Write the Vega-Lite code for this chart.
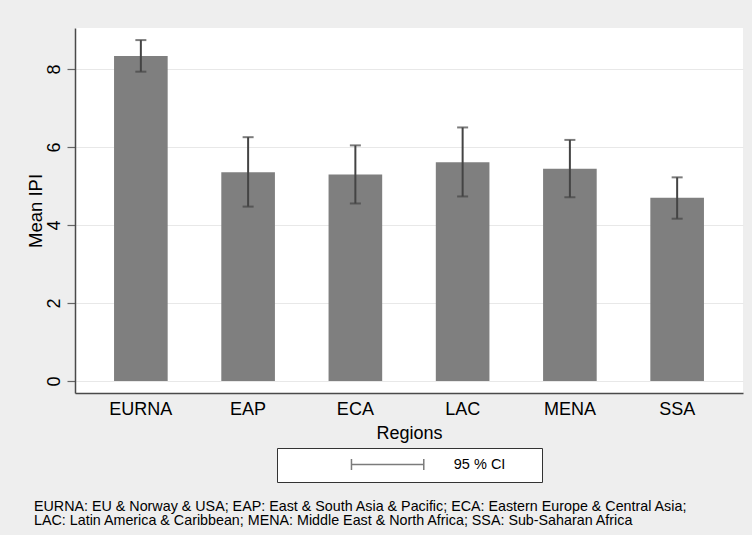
{
  "$schema": "https://vega.github.io/schema/vega-lite/v6.json",
  "width": 668,
  "height": 365,
  "autosize": {"type": "none"},
  "padding": {"left": 75, "top": 28, "right": 9, "bottom": 142},
  "background": "#eeeeee",
  "config": {
    "view": {"fill": "white", "stroke": null},
    "font": "Liberation Sans",
    "legend": {"layout": {"bottom": {"anchor": "middle"}}}
  },
  "data": {
    "values": [
      {"region": "EURNA", "mean": 8.33, "lo": 7.93, "hi": 8.74, "ci": "95 % CI"},
      {"region": "EAP", "mean": 5.35, "lo": 4.47, "hi": 6.25, "ci": "95 % CI"},
      {"region": "ECA", "mean": 5.29, "lo": 4.55, "hi": 6.04, "ci": "95 % CI"},
      {"region": "LAC", "mean": 5.61, "lo": 4.73, "hi": 6.50, "ci": "95 % CI"},
      {"region": "MENA", "mean": 5.44, "lo": 4.71, "hi": 6.18, "ci": "95 % CI"},
      {"region": "SSA", "mean": 4.70, "lo": 4.16, "hi": 5.22, "ci": "95 % CI"}
    ]
  },
  "title": {
    "text": [
      "EURNA: EU & Norway & USA; EAP: East & South Asia & Pacific; ECA: Eastern Europe & Central Asia;",
      "LAC: Latin America & Caribbean; MENA: Middle East & North Africa; SSA: Sub-Saharan Africa"
    ],
    "orient": "bottom",
    "anchor": "start",
    "frame": "bounds",
    "font": "Liberation Sans",
    "fontSize": 14.3,
    "fontWeight": "normal",
    "color": "#000000",
    "lineHeight": 14.6,
    "baseline": "top",
    "offset": 17,
    "dx": 8
  },
  "encoding": {
    "x": {
      "field": "region",
      "type": "nominal",
      "sort": null,
      "scale": {"paddingInner": 0.5, "paddingOuter": 0.364},
      "axis": {
        "title": "Regions",
        "titleFontSize": 18,
        "titleFontWeight": "normal",
        "titleColor": "#000000",
        "titlePadding": 6,
        "labelAngle": 0,
        "labelFontSize": 18,
        "labelColor": "#000000",
        "labelPadding": 7,
        "ticks": false,
        "domainColor": "#4a4a4a",
        "domainWidth": 1.5,
        "grid": false
      }
    }
  },
  "layer": [
    {
      "mark": {"type": "bar", "color": "#7f7f7f"},
      "encoding": {
        "y": {
          "field": "mean",
          "type": "quantitative",
          "scale": {"domain": [-0.31, 9.05], "nice": false, "zero": false},
          "axis": {
            "title": "Mean IPI",
            "titleFontSize": 18.5,
            "titleFontWeight": "normal",
            "titleColor": "#000000",
            "titlePadding": 0,
            "values": [0, 2, 4, 6, 8],
            "labelAngle": -90,
            "labelAlign": "center",
            "labelBaseline": "alphabetic",
            "labelFontSize": 18,
            "labelColor": "#000000",
            "labelPadding": 8,
            "tickSize": 8,
            "tickColor": "#666666",
            "tickWidth": 1.2,
            "domainColor": "#4a4a4a",
            "domainWidth": 1.5,
            "grid": true,
            "gridColor": "#e8e8e8",
            "gridWidth": 1.2
          }
        },
        "y2": {"datum": 0}
      }
    },
    {
      "mark": {"type": "rule", "strokeWidth": 2},
      "encoding": {
        "y": {"field": "lo", "type": "quantitative"},
        "y2": {"field": "hi"},
        "color": {
          "field": "ci",
          "type": "nominal",
          "scale": {"domain": ["95 % CI"], "range": ["#444444"]},
          "legend": {
            "orient": "bottom",
            "direction": "horizontal",
            "title": "MM",
            "titleOrient": "right",
            "titleColor": "#ffffff",
            "titleFontSize": 15,
            "titleFontWeight": "normal",
            "titlePadding": 2.6,
            "symbolType": "M-0.079,-0.08 L-0.079,0.08 M-0.079,0 L0.954,0 M0.954,-0.08 L0.954,0.08",
            "symbolSize": 19600,
            "symbolStrokeWidth": 1.5,
            "symbolStrokeColor": "#333333",
            "clipHeight": 15,
            "labelFontSize": 14.5,
            "labelColor": "#000000",
            "labelOffset": 25.8,
            "fillColor": "white",
            "strokeColor": "#333333",
            "padding": 9,
            "offset": 6
          }
        }
      }
    },
    {
      "mark": {"type": "tick", "thickness": 2, "size": 11},
      "encoding": {
        "y": {"field": "lo", "type": "quantitative"},
        "color": {"field": "ci", "type": "nominal"}
      }
    },
    {
      "mark": {"type": "tick", "thickness": 2, "size": 11},
      "encoding": {
        "y": {"field": "hi", "type": "quantitative"},
        "color": {"field": "ci", "type": "nominal"}
      }
    }
  ]
}
